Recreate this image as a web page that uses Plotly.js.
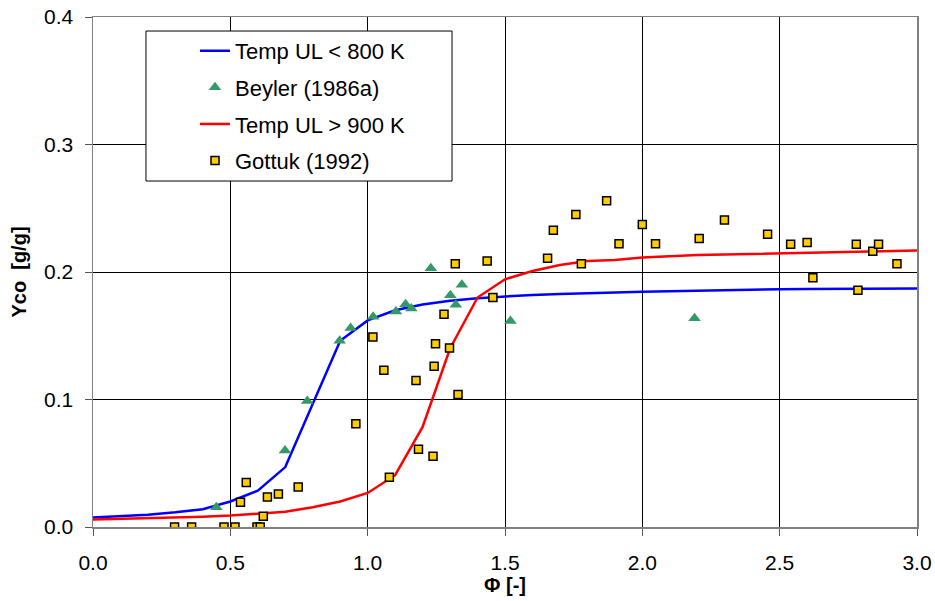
<!DOCTYPE html>
<html>
<head>
<meta charset="utf-8">
<script src="https://cdn.plot.ly/plotly-3.0.1.min.js"></script>
<style>html,body{margin:0;padding:0;background:#fff;}#chart{width:935px;height:601px;}</style>
</head>
<body>
<div id="chart"></div>
<script>
// Model curves
const modelPhi = [0,0.1,0.2,0.3,0.4,0.5,0.6,0.7,0.8,0.9,1.0,1.1,1.2,1.3,1.4,1.5,1.6,1.7,1.8,1.9,2.0,2.1,2.2,2.3,2.4,2.5,2.6,2.7,2.8,2.9,3.0];
const blueY = [0.0074,0.0085,0.0097,0.0115,0.0140,0.0200,0.0285,0.0470,0.0960,0.1460,0.1620,0.1700,0.1745,0.1775,0.1795,0.1810,0.1820,0.1828,0.1832,0.1840,0.1845,0.1850,0.1855,0.1858,0.1860,0.1865,0.1867,0.1868,0.1870,0.1870,0.1870];
const redY = [0.0058,0.0063,0.0068,0.0075,0.0080,0.0090,0.0105,0.0120,0.0155,0.0200,0.0267,0.0406,0.0785,0.1400,0.1800,0.1943,0.2008,0.2055,0.2087,0.2095,0.2113,0.2125,0.2134,0.2138,0.2143,0.2147,0.2150,0.2155,0.2158,0.2163,0.2168];

// Beyler (1986a)
const beylerPhi = [0.449,0.699,0.780,0.898,0.938,1.020,1.103,1.138,1.159,1.230,1.301,1.321,1.343,1.520,2.190];
const beylerY   = [0.0155,0.060,0.0988,0.146,0.156,0.165,0.169,0.1747,0.1713,0.203,0.1818,0.1744,0.190,0.1616,0.1637];

// Gottuk (1992)
const gottukPhi = [0.297,0.359,0.477,0.517,0.597,0.609,0.620,0.537,0.558,0.635,0.675,0.747,0.957,1.019,1.059,1.079,1.176,1.185,1.238,1.242,1.247,1.278,1.298,1.329,1.319,1.435,1.456,1.655,1.676,1.758,1.778,1.870,1.915,2.000,2.048,2.207,2.299,2.456,2.540,2.600,2.621,2.779,2.785,2.839,2.860,2.927];
const gottukY   = [0.000,0.000,0.000,0.000,0.000,0.000,0.0084,0.0194,0.0349,0.0236,0.0259,0.0314,0.0809,0.149,0.1229,0.039,0.115,0.061,0.0555,0.126,0.1438,0.1668,0.1404,0.104,0.2064,0.2087,0.180,0.2108,0.2328,0.2451,0.2064,0.2559,0.2221,0.2372,0.2221,0.2262,0.2407,0.2297,0.2218,0.2231,0.1954,0.2218,0.1857,0.2163,0.2218,0.2064];

const names = ['Temp UL < 800 K','Beyler (1986a)','Temp UL > 900 K','Gottuk (1992)'];
const xTicks = [0,0.5,1.0,1.5,2.0,2.5,3.0];
const yTicks = [0,0.1,0.2,0.3,0.4];

const FONT = 'Liberation Sans, Arial, sans-serif';

const traces = [
  {x: modelPhi, y: blueY, mode: 'lines', name: names[0], legendgroup: 'a',
   line: {color: '#0000FF', width: 2.5}},
  {x: beylerPhi, y: beylerY, mode: 'markers', name: names[1], legendgroup: 'b',
   marker: {symbol: 'triangle-up', size: 11, color: '#339966'}},
  {x: modelPhi, y: redY, mode: 'lines', name: names[2], legendgroup: 'c',
   line: {color: '#FF0000', width: 2.5}},
  {x: gottukPhi, y: gottukY, mode: 'markers', name: names[3], legendgroup: 'd',
   marker: {symbol: 'square', size: 8, color: '#FFCC00', line: {color: '#000000', width: 1.5}}}
];

const layout = {
  width: 935, height: 601,
  margin: {l: 93, r: 18, t: 17, b: 74},
  paper_bgcolor: '#ffffff', plot_bgcolor: '#ffffff',
  font: {family: FONT, size: 21, color: '#000'},
  showlegend: true,
  legend: {x: 0.1238, y: 0.9746, xanchor: 'left', yanchor: 'top',
    bgcolor: 'rgba(0,0,0,0)', borderwidth: 0, traceorder: 'grouped', tracegroupgap: 5,
    font: {family: FONT, size: 22, color: '#000'}},
  shapes: [{type: 'rect', xref: 'paper', yref: 'paper', x0: 0.0643, x1: 0.4357, y0: 0.6784, y1: 0.9725,
    line: {color: '#000', width: 1}, fillcolor: '#ffffff', layer: 'above'}],
  xaxis: {range: [0, 3], tickvals: xTicks, ticktext: xTicks.map(v => v.toFixed(1)),
    showgrid: true, gridcolor: '#000', gridwidth: 1, zeroline: false,
    showline: true, linecolor: '#808080', linewidth: 1.5, mirror: true,
    ticks: 'outside', ticklen: 7, tickcolor: '#555', tickwidth: 1,
    tickfont: {family: FONT, size: 21}, ticklabelstandoff: 9,
    title: {text: '<b>Φ [-]</b>', font: {family: FONT, size: 20}, standoff: 4}},
  yaxis: {range: [0, 0.4], tickvals: yTicks, ticktext: yTicks.map(v => v.toFixed(1)),
    showgrid: true, gridcolor: '#000', gridwidth: 1, zeroline: false,
    showline: true, linecolor: '#808080', linewidth: 1.5, mirror: true,
    ticks: 'outside', ticklen: 7, tickcolor: '#555', tickwidth: 1,
    tickfont: {family: FONT, size: 21}, ticklabelstandoff: 7,
    title: {text: '<b>Yco\u00a0 [g/g]</b>', font: {family: FONT, size: 20}, standoff: 12}}
};

Plotly.newPlot('chart', traces, layout, {displayModeBar: false, staticPlot: true});
</script>
</body>
</html>
